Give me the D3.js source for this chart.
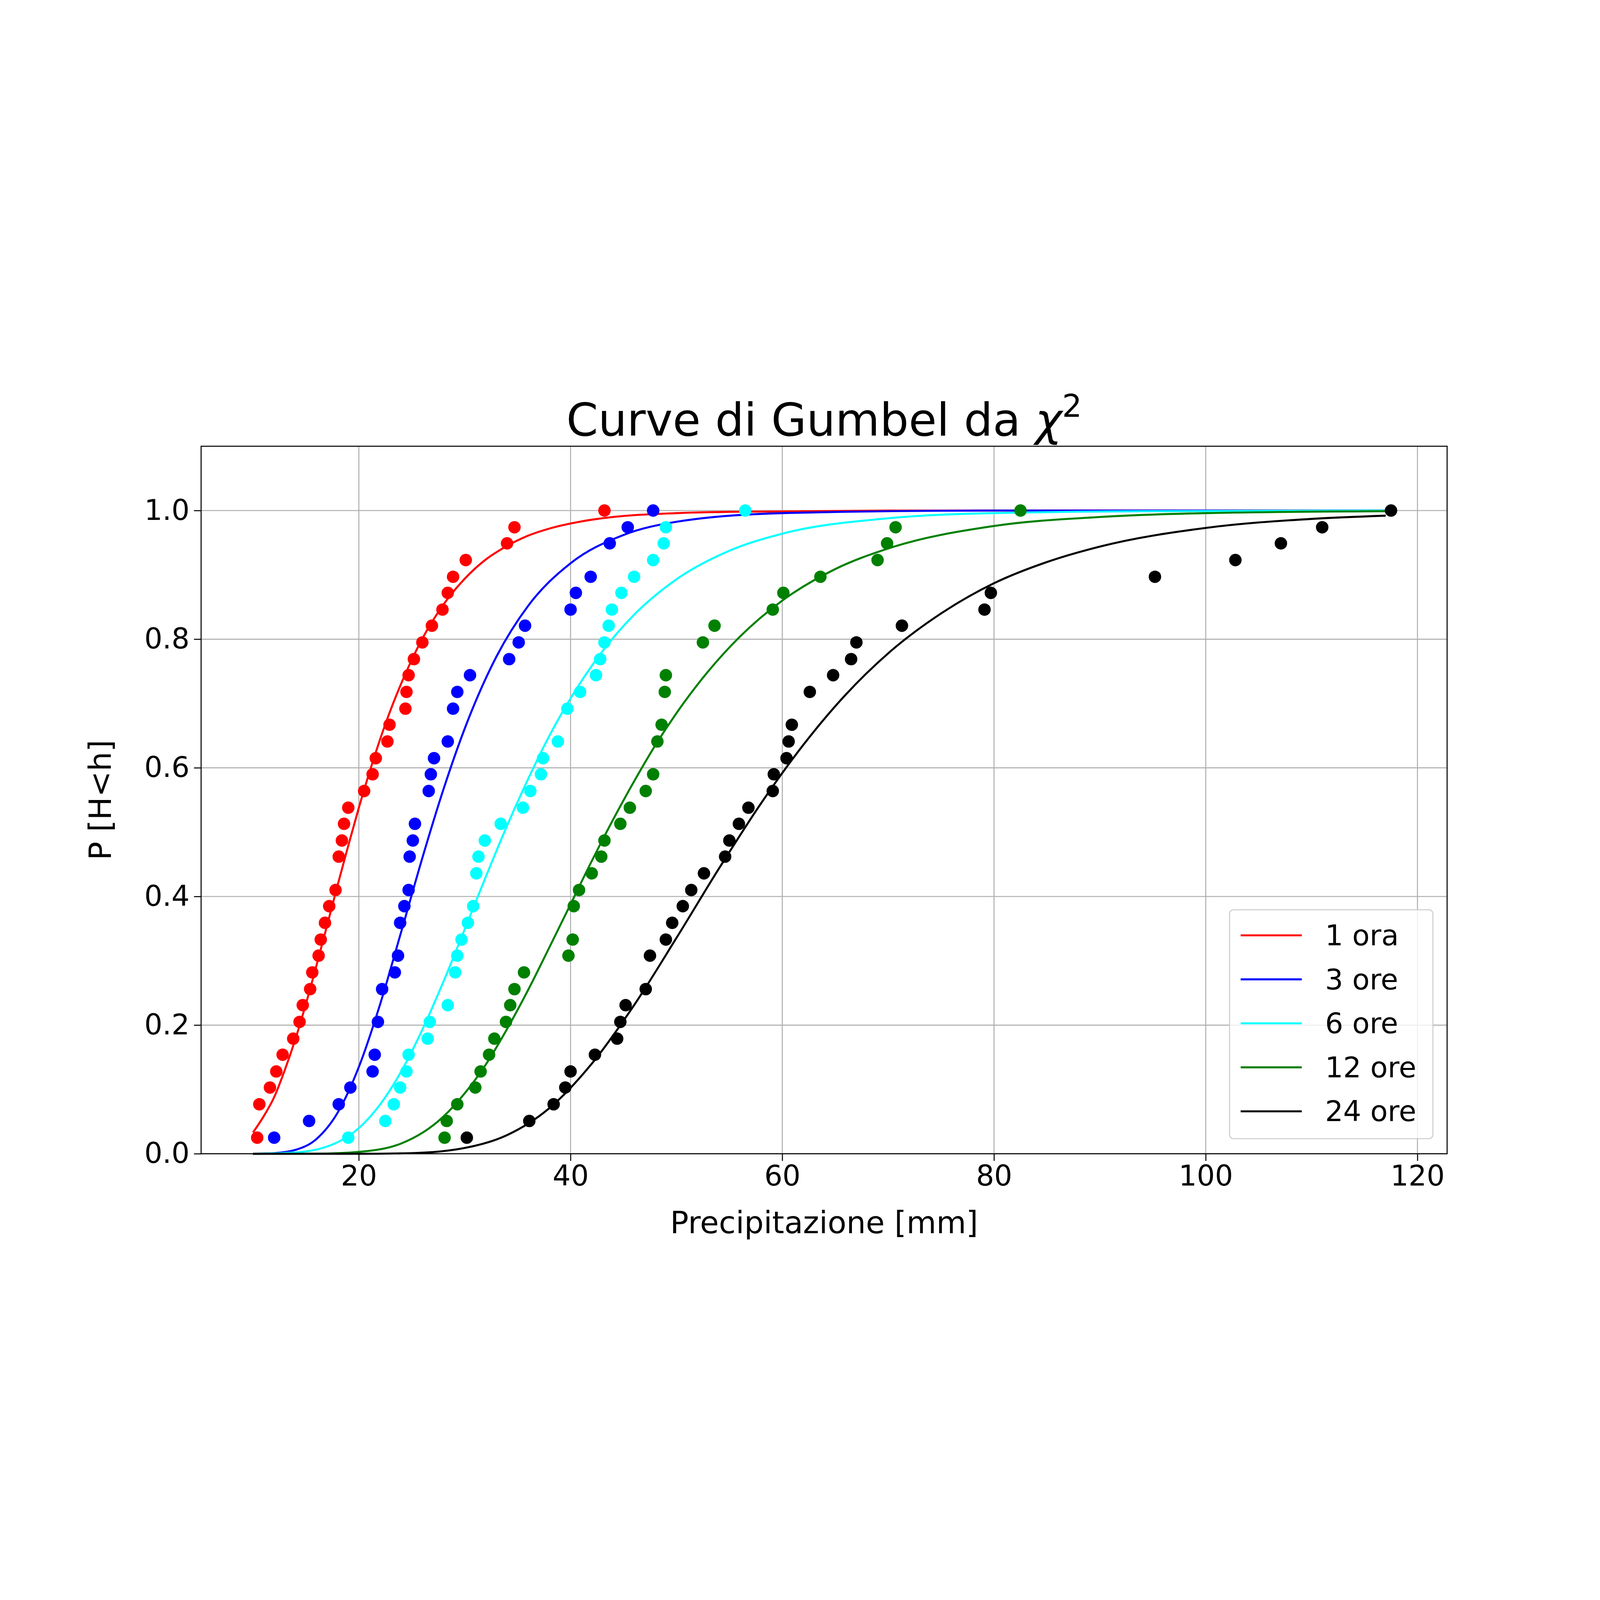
<!DOCTYPE html>
<html>
<head>
<meta charset="utf-8">
<script src="https://cdn.jsdelivr.net/npm/d3@7"></script>
<style>
  html, body { margin: 0; padding: 0; background: #fff; overflow: hidden; }
  #chart svg { display: block; width: 100vw; height: 100vh; }
  text { font-family: "DejaVu Sans", sans-serif; }
</style>
</head>
<body>
<div id="chart"></div>
<script>

// observed points [precipitation mm, P]
const obs1 = [[10.4,0.025],[10.6,0.077],[11.6,0.103],[12.2,0.128],[12.8,0.154],[13.8,0.179],[14.4,0.205],[14.7,0.231],[15.4,0.256],[15.6,0.282],[16.2,0.308],[16.4,0.333],[16.8,0.359],[17.2,0.385],[17.8,0.410],[18.1,0.462],[18.4,0.487],[18.6,0.513],[19.0,0.538],[20.5,0.564],[21.3,0.590],[21.6,0.615],[22.7,0.641],[22.9,0.667],[24.4,0.692],[24.5,0.718],[24.7,0.744],[25.2,0.769],[26.0,0.795],[26.9,0.821],[27.9,0.846],[28.4,0.872],[28.9,0.897],[30.1,0.923],[34.0,0.949],[34.7,0.974],[43.2,1.0]]
const obs3 = [[12.0,0.025],[15.3,0.051],[18.1,0.077],[19.2,0.103],[21.3,0.128],[21.5,0.154],[21.8,0.205],[22.2,0.256],[23.4,0.282],[23.7,0.308],[23.9,0.359],[24.3,0.385],[24.7,0.410],[24.8,0.462],[25.1,0.487],[25.3,0.513],[26.6,0.564],[26.8,0.590],[27.1,0.615],[28.4,0.641],[28.9,0.692],[29.3,0.718],[30.5,0.744],[34.2,0.769],[35.1,0.795],[35.7,0.821],[40.0,0.846],[40.5,0.872],[41.9,0.897],[43.7,0.949],[45.4,0.974],[47.8,1.0]]
const obs6 = [[19.0,0.025],[22.5,0.051],[23.3,0.077],[23.9,0.103],[24.5,0.128],[24.7,0.154],[26.5,0.179],[26.7,0.205],[28.4,0.231],[29.1,0.282],[29.3,0.308],[29.7,0.333],[30.3,0.359],[30.8,0.385],[31.1,0.436],[31.3,0.462],[31.9,0.487],[33.4,0.513],[35.5,0.538],[36.2,0.564],[37.2,0.590],[37.4,0.615],[38.8,0.641],[39.7,0.692],[40.9,0.718],[42.4,0.744],[42.8,0.769],[43.2,0.795],[43.6,0.821],[43.9,0.846],[44.8,0.872],[46.0,0.897],[47.8,0.923],[48.8,0.949],[49.0,0.974],[56.5,1.0]]
const obs12 = [[28.1,0.025],[28.3,0.051],[29.3,0.077],[31.0,0.103],[31.5,0.128],[32.3,0.154],[32.8,0.179],[33.9,0.205],[34.3,0.231],[34.7,0.256],[35.6,0.282],[39.8,0.308],[40.2,0.333],[40.3,0.385],[40.8,0.410],[42.0,0.436],[42.9,0.462],[43.2,0.487],[44.7,0.513],[45.6,0.538],[47.1,0.564],[47.8,0.590],[48.2,0.641],[48.6,0.667],[48.9,0.718],[49.0,0.744],[52.5,0.795],[53.6,0.821],[59.1,0.846],[60.1,0.872],[63.6,0.897],[69.0,0.923],[69.9,0.949],[70.7,0.974],[82.5,1.0]]
const obs24 = [[30.2,0.025],[36.1,0.051],[38.4,0.077],[39.5,0.103],[40.0,0.128],[42.3,0.154],[44.4,0.179],[44.7,0.205],[45.2,0.231],[47.1,0.256],[47.5,0.308],[49.0,0.333],[49.6,0.359],[50.6,0.385],[51.4,0.410],[52.6,0.436],[54.6,0.462],[55.0,0.487],[55.9,0.513],[56.8,0.538],[59.1,0.564],[59.2,0.590],[60.4,0.615],[60.6,0.641],[60.9,0.667],[62.6,0.718],[64.8,0.744],[66.5,0.769],[67.0,0.795],[71.3,0.821],[79.1,0.846],[79.7,0.872],[95.2,0.897],[102.8,0.923],[107.1,0.949],[111.0,0.974],[117.5,1.0]]

// fitted curves [mm, P]
const fit1 = [[10,0.033],[11,0.058],[12,0.088],[13,0.130],[14,0.178],[15,0.233],[16,0.293],[17,0.355],[18,0.418],[19,0.479],[20,0.538],[21,0.593],[22,0.644],[23,0.690],[24,0.731],[25,0.768],[26,0.801],[28,0.854],[30,0.894],[32,0.924],[34,0.945],[36,0.961],[38,0.972],[41,0.983],[44,0.990],[50,0.996],[55,0.998],[70,1.0],[117,1.0]]
const fit3 = [[10,0.0],[12,0.001],[14,0.006],[16,0.023],[18,0.064],[20,0.135],[22,0.232],[24,0.345],[26,0.460],[28,0.567],[30,0.661],[33,0.773],[36,0.852],[40,0.918],[45,0.962],[50,0.9825],[60,0.996],[80,1.0],[117,1.0]]
const fit6 = [[10,0.0],[14,0.002],[18,0.018],[20,0.040],[22,0.0765],[24,0.128],[26,0.193],[28,0.268],[30,0.349],[32,0.431],[34,0.510],[36,0.583],[38,0.650],[40,0.708],[43,0.781],[46,0.838],[50,0.893],[55,0.9375],[60,0.964],[70,0.988],[80,0.996],[95,0.999],[117,1.0]]
const fit12 = [[10,0.0],[16,0.0002],[20,0.003],[24,0.016],[28,0.058],[30,0.094],[32,0.139],[34,0.194],[36,0.255],[38,0.321],[40,0.388],[42,0.455],[44,0.519],[46,0.579],[48,0.635],[50,0.685],[53,0.750],[56,0.804],[60,0.860],[65,0.909],[70,0.941],[80,0.976],[90,0.990],[100,0.996],[117,0.999]]
const fit24 = [[10,0.0],[20,0.0],[25,0.001],[30,0.009],[34,0.029],[38,0.071],[42,0.140],[46,0.231],[50,0.3355],[54,0.443],[58,0.545],[62,0.636],[66,0.714],[70,0.778],[75,0.840],[80,0.887],[85,0.920],[90,0.944],[100,0.973],[110,0.987],[117,0.992]]

const seriesNames = ['1 ora', '3 ore', '6 ore', '12 ore', '24 ore']
const seriesColors = ['#ff0000', '#0000ff', '#00ffff', '#008000', '#000000']
const obsData = [obs1, obs3, obs6, obs12, obs24]
const fitData = [fit1, fit3, fit6, fit12, fit24]

const xTicks = [20, 40, 60, 80, 100, 120]
const yTicks = [0.0, 0.2, 0.4, 0.6, 0.8, 1.0]

let width = 7200
let height = 4200
let margin = ({top: 508, right: 688, bottom: 508, left: 905})

let x = d3.scaleLinear()
	.domain([5.1, 122.8])
	.range([margin.left, width - margin.right])

let y = d3.scaleLinear()
	.domain([0, 1.1])
	.range([height - margin.bottom, margin.top])

const svg = d3.select('#chart')
	.append('svg')
	.attr('viewBox', `0 0 ${width} ${height}`)
	.attr('preserveAspectRatio', 'xMidYMid meet')

svg.append('rect').attr('width', width).attr('height', height).attr('fill', '#fff')

// grid
svg.append('g')
	.selectAll('line')
	.data(xTicks)
	.enter()
	.append('line')
	.attr('x1', d => x(d)).attr('x2', d => x(d))
	.attr('y1', y(0)).attr('y2', y(1.1))
	.attr('stroke', '#b0b0b0').attr('stroke-width', 4.6)

svg.append('g')
	.selectAll('line')
	.data(yTicks)
	.enter()
	.append('line')
	.attr('y1', d => y(d)).attr('y2', d => y(d))
	.attr('x1', x.range()[0]).attr('x2', x.range()[1])
	.attr('stroke', '#b0b0b0').attr('stroke-width', 4.6)

const plot = svg.append('g')

let line = d3.line()
	.x(d => x(d[0]))
	.y(d => y(d[1]))
	.curve(d3.curveMonotoneX)

fitData.forEach(function(d, i){
	plot.append('path')
		.datum(d)
		.attr('d', line)
		.attr('fill', 'none')
		.attr('stroke', seriesColors[i])
		.attr('stroke-width', 9)
})

obsData.forEach(function(d, i){
	plot.append('g')
		.selectAll('circle')
		.data(d)
		.enter()
		.append('circle')
		.attr('cx', p => x(p[0]))
		.attr('cy', p => y(p[1]))
		.attr('r', 28)
		.attr('fill', seriesColors[i])
})

// axes
let xAxis = g => g
	.attr('transform', `translate(0,${height - margin.bottom})`)
	.call(d3.axisBottom(x).tickValues(xTicks).tickFormat(d3.format('d')).tickSizeOuter(0).tickSize(32).tickPadding(20))

let yAxis = g => g
	.attr('transform', `translate(${margin.left},0)`)
	.call(d3.axisLeft(y).tickValues(yTicks).tickFormat(d3.format('.1f')).tickSizeOuter(0).tickSize(32).tickPadding(20))

svg.append('g').call(xAxis)
svg.append('g').call(yAxis)

svg.selectAll('.tick text')
	.attr('font-size', 128)
	.attr('font-family', 'DejaVu Sans')
	.attr('fill', '#000')
svg.selectAll('.tick line').attr('stroke-width', 4.6)
svg.selectAll('.domain').remove()

// frame
svg.append('rect')
	.attr('x', margin.left).attr('y', margin.top)
	.attr('width', width - margin.left - margin.right)
	.attr('height', height - margin.top - margin.bottom)
	.attr('fill', 'none').attr('stroke', '#000').attr('stroke-width', 4.6)

// titles
const title = svg.append('text')
	.attr('x', (margin.left + width - margin.right) / 2)
	.attr('y', 460)
	.attr('text-anchor', 'middle')
	.attr('font-size', 205)
title.append('tspan').text('Curve di Gumbel da ')
title.append('tspan').attr('font-style', 'italic').text('χ')
title.append('tspan').attr('font-size', 140).attr('dy', -85).text('2')

svg.append('text')
	.attr('x', (margin.left + width - margin.right) / 2)
	.attr('y', 4050)
	.attr('text-anchor', 'middle')
	.attr('font-size', 138)
	.text('Precipitazione [mm]')

svg.append('text')
	.attr('transform', `translate(500,${(margin.top + height - margin.bottom) / 2}) rotate(-90)`)
	.attr('text-anchor', 'middle')
	.attr('font-size', 138)
	.text('P [H<h]')

// legend
const legend = svg.append('g').attr('transform', 'translate(5533,2594)')
legend.append('rect')
	.attr('width', 915).attr('height', 1030)
	.attr('rx', 18)
	.attr('fill', '#fff').attr('fill-opacity', 0.8)
	.attr('stroke', '#cccccc').attr('stroke-width', 4.6)

seriesNames.forEach(function(name, i){
	let ly = 115 + i * 198
	legend.append('line')
		.attr('x1', 50).attr('x2', 325)
		.attr('y1', ly).attr('y2', ly)
		.attr('stroke', seriesColors[i]).attr('stroke-width', 9)
	legend.append('text')
		.attr('x', 430).attr('y', ly)
		.attr('dy', '0.35em')
		.attr('font-size', 128)
		.text(name)
})

</script>
</body>
</html>
